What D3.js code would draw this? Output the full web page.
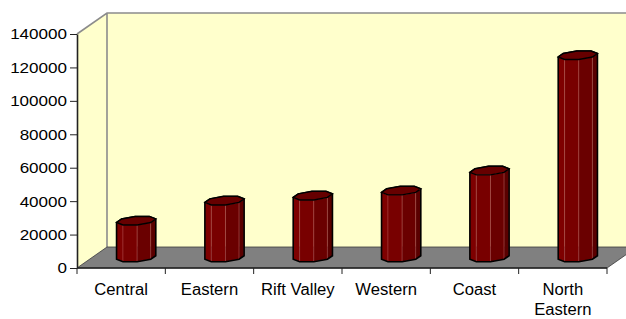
<!DOCTYPE html>
<html>
<head>
<meta charset="utf-8">
<script src="https://cdn.jsdelivr.net/npm/d3@7"></script>
<style>
  body { margin: 0; background: #fff; }
  text { font-family: "Liberation Sans", Arial, sans-serif; fill: #000; }
</style>
</head>
<body>
<div id="wrapper"></div>
<script>
const regions = ["Central", "Eastern", "Rift Valley", "Western", "Coast", "North Eastern"]
const values = [22000, 34000, 37000, 40000, 52000, 121000]
const yTicks = [0, 20000, 40000, 60000, 80000, 100000, 120000, 140000]

function drawChart () {
    const dimensions = {
        width: 626,
        height: 319,
        margin: { top: 34, right: 19, bottom: 51, left: 77 },
        depthX: 30,
        depthY: 21,
    }
    dimensions.boundedWidth = dimensions.width - dimensions.margin.left - dimensions.margin.right
    dimensions.boundedHeight = dimensions.height - dimensions.margin.top - dimensions.margin.bottom

    const wrapper = d3.select("#wrapper")
        .append("svg")
        .attr("width", dimensions.width)
        .attr("height", dimensions.height)

    const xScale = d3.scaleBand()
        .domain(regions)
        .range([dimensions.margin.left, dimensions.margin.left + dimensions.boundedWidth])
    const yScale = d3.scaleLinear()
        .domain([0, 140000])
        .range([dimensions.margin.top + dimensions.boundedHeight, dimensions.margin.top])

    const x0 = xScale.range()[0], x1 = xScale.range()[1]
    const yBottom = yScale(0), yTop = yScale(140000)
    const dx = dimensions.depthX, dy = dimensions.depthY

    // walls and floor
    const walls = wrapper.append("g")
    walls.append("path")  // left wall
        .attr("d", `M${x0},${yTop}L${x0 + dx},${yTop - dy}L${x0 + dx},${yBottom - dy}L${x0},${yBottom}Z`)
        .attr("fill", "#ffffcc")
    walls.append("rect")  // back wall
        .attr("x", x0 + dx).attr("y", yTop - dy)
        .attr("width", x1 - x0 + 10).attr("height", yBottom - yTop)
        .attr("fill", "#ffffcc")
    walls.append("path")
        .attr("d", `M${x0},${yTop}L${x0 + dx},${yTop - dy}L${x1 + dx + 10},${yTop - dy}M${x0 + dx},${yTop - dy}L${x0 + dx},${yBottom - dy}`)
        .attr("fill", "none")
        .attr("stroke", "#8c8c8c")
        .attr("stroke-width", 1.6)
    walls.append("path")  // floor
        .attr("d", `M${x0},${yBottom}L${x0 + dx},${yBottom - dy}L${x1 + dx},${yBottom - dy}L${x1},${yBottom}Z`)
        .attr("fill", "#808080")
        .attr("stroke", "#3a3a3a")
        .attr("stroke-width", 0.8)

    // octagonal bars
    const a = 18.5, b = 0.22
    const angles = d3.range(8).map(k => (22.5 + 45 * k) * Math.PI / 180)
    const faceColor = d3.scaleLinear()
        .domain([-135, -90, -45, 0])
        .range(["#7e0000", "#780000", "#6a0000", "#5a0000"])

    const project = (cx, y, theta) => {
        const z = 0.5 + b * Math.sin(theta)
        return [cx + a * Math.cos(theta) + dx * z, y - dy * z]
    }

    const bars = wrapper.append("g")
    regions.forEach((region, i) => {
        const cx = xScale(region) + xScale.bandwidth() / 2
        const yb = yScale(0), yt = yScale(values[i])
        const bottomPts = angles.map(t => project(cx, yb, t))
        const topPts = angles.map(t => project(cx, yt, t))
        const g = bars.append("g")

        // visible side faces: normals at -135, -90, -45, 0 degrees
        const faces = []
        for (let k = 0; k < 8; k++) {
            const k2 = (k + 1) % 8
            let mid = 22.5 + 45 * k + 22.5
            if (mid > 180) mid -= 360
            if (mid >= -135 && mid <= 0) faces.push({ k, k2, mid })
        }
        g.selectAll(".face")
            .data(faces)
            .join("path")
            .attr("class", "face")
            .attr("d", f => "M" + [bottomPts[f.k], bottomPts[f.k2], topPts[f.k2], topPts[f.k]].join("L") + "Z")
            .attr("fill", f => faceColor(f.mid))
            .attr("stroke", "#b86060")
            .attr("stroke-opacity", 0.6)
            .attr("stroke-width", 0.6)

        const hull = d3.polygonHull(bottomPts.concat(topPts))
        g.append("path")
            .attr("d", "M" + hull.join("L") + "Z")
            .attr("fill", "none")
            .attr("stroke", "#000")
            .attr("stroke-width", 1.6)
        g.append("path")
            .attr("d", "M" + topPts.join("L") + "Z")
            .attr("fill", "#660000")
            .attr("stroke", "#000")
            .attr("stroke-width", 1.4)
    })

    // y axis
    const yAxisGenerator = d3.axisLeft(yScale)
        .tickValues(yTicks)
        .tickFormat(d3.format("d"))
        .tickSize(7)
        .tickSizeOuter(0)
        .tickPadding(3)
    const yAxis = wrapper.append("g")
        .attr("transform", `translate(${x0},0)`)
        .call(yAxisGenerator)
    yAxis.select(".domain").attr("stroke", "#222").attr("stroke-width", 1.6)
    yAxis.selectAll(".tick line").attr("stroke", "#222")
    yAxis.selectAll(".tick text")
        .style("font-size", "15.5px")
        .attr("font-family", null)
        .attr("transform", function () {
            const xPos = +d3.select(this).attr("x")
            return `translate(${xPos},0) scale(1.1,1) translate(${-xPos},0)`
        })

    // x axis: ticks at category boundaries
    const xAxis = wrapper.append("g")
    xAxis.append("line")
        .attr("x1", x0).attr("x2", x1)
        .attr("y1", yBottom).attr("y2", yBottom)
        .attr("stroke", "#222").attr("stroke-width", 1.6)
    const bounds = regions.map(r => xScale(r)).concat([x1])
    xAxis.selectAll(".xtick")
        .data(bounds)
        .join("line")
        .attr("class", "xtick")
        .attr("x1", d => d).attr("x2", d => d)
        .attr("y1", yBottom).attr("y2", yBottom + 6)
        .attr("stroke", "#222")

    const labels = xAxis.selectAll(".xlabel")
        .data(regions)
        .join("text")
        .attr("class", "xlabel")
        .attr("text-anchor", "middle")
        .style("font-size", "16px")
        .attr("transform", d => `translate(${xScale(d) + xScale.bandwidth() / 2},295) scale(1.04,1)`)
    labels.each(function (d) {
        const t = d3.select(this)
        t.text(d)
        if (this.getComputedTextLength() > xScale.bandwidth() - 6) {
            t.text(null)
            d.split(" ").forEach((word, j) => {
                t.append("tspan").attr("x", 0).attr("dy", j === 0 ? 0 : 20).text(word)
            })
        }
    })
}

drawChart()
</script>
</body>
</html>
